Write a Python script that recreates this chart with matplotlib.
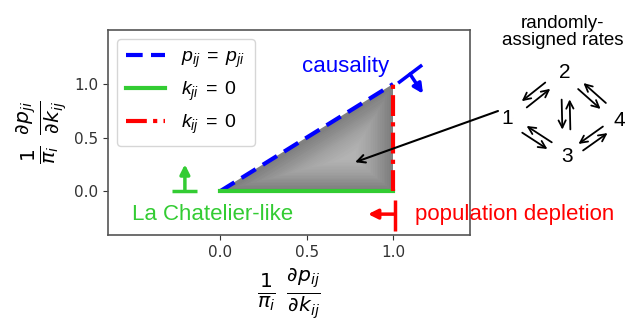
import matplotlib
matplotlib.use("Agg")
import matplotlib.pyplot as plt
import numpy as np

plt.rcParams['font.family'] = ['Liberation Sans', 'DejaVu Sans']
plt.rcParams['mathtext.fontset'] = 'custom'
plt.rcParams['mathtext.it'] = 'Liberation Sans:italic'
plt.rcParams['mathtext.rm'] = 'Liberation Sans'

# ---- data ----
region_x = [0.0, 1.0, 1.0]
region_y = [0.0, 0.0, 1.0]
causal_x = [0.0, 1.0]
causal_y = [0.0, 1.0]
chat_x = [0.0, 1.0]
chat_y = [0.0, 0.0]
depl_x = [1.0, 1.0]
depl_y = [0.0, 1.0]
legend_labels = [r'$p_{ij}\;=\;p_{ji}$', r'$k_{ji}\;=\;0$', r'$k_{ij}\;=\;0$']
xticks = [0.0, 0.5, 1.0]
yticks = [0.0, 0.5, 1.0]
node_labels = ['1', '2', '3', '4']
node_edges = [(0, 1), (1, 3), (1, 2), (0, 2), (2, 3)]

BLUE = '#0000ff'
GREEN = '#33cc33'
RED = '#ff0000'

fig = plt.figure(figsize=(6.31, 3.23), dpi=100)
ov = fig.add_axes([0, 0, 1, 1], zorder=5)
ov.set_xlim(0, 631)
ov.set_ylim(323, 0)
ov.axis('off')
ov.patch.set_alpha(0)

ax = fig.add_axes([108/631, 1-235/323, 362/631, 205/323])
ax.set_xlim(-0.65, 1.445)
ax.set_ylim(-0.41, 1.505)
for s in ax.spines.values():
    s.set_color('#555555')
    s.set_linewidth(1.2)
ax.set_xticks(xticks)
ax.set_yticks(yticks)
ax.tick_params(labelsize=11, colors='#333333')
for t in ax.get_xticklabels() + ax.get_yticklabels():
    t.set_fontfamily('DejaVu Sans')

# grey region with lighter centre
ax.fill(region_x, region_y, color='#808080', zorder=1, lw=0)
cx, cy = 0.76, 0.32
rx = np.array(region_x); ry = np.array(region_y)
for f in np.linspace(0.9, 0.1, 20):
    ax.fill(cx + (rx - cx) * f, cy + (ry - cy) * f, color='white', alpha=0.03, lw=0, zorder=1)

l1, = ax.plot(causal_x, causal_y, color=BLUE, lw=3, ls=(0, (4, 2)), zorder=3)
l2, = ax.plot(chat_x, chat_y, color=GREEN, lw=3, zorder=3)
l3, = ax.plot(depl_x, depl_y, color=RED, lw=3, ls=(0, (5, 1.5, 1, 1.5)), zorder=3)

leg = ax.legend([l1, l2, l3], legend_labels, loc='upper left', fontsize=14,
                handlelength=2.0, labelspacing=0.5, borderpad=0.5,
                bbox_to_anchor=(0.0, 1.0), borderaxespad=0.45)
leg.get_frame().set_edgecolor('#cccccc')

# T markers
def tmark(p0, p1, stem0, tip, color):
    ax.plot([p0[0], p1[0]], [p0[1], p1[1]], color=color, lw=2.5, clip_on=False, zorder=4,
            solid_capstyle='butt')
    ax.annotate('', xy=tip, xytext=stem0,
                arrowprops=dict(arrowstyle='-|>', color=color, lw=2.5, mutation_scale=14,
                                shrinkA=0, shrinkB=0), annotation_clip=False, zorder=4)

tmark((1.029, 1.009), (1.168, 1.178), (1.098, 1.093), (1.173, 0.91), BLUE)
tmark((-0.277, 0.0), (-0.133, 0.0), (-0.205, 0.0), (-0.205, 0.25), GREEN)
tmark((1.012, -0.08), (1.012, -0.37), (1.012, -0.215), (0.855, -0.215), RED)

ax.text(0.723, 1.16, 'causality', color=BLUE, fontsize=16, ha='center', va='center')
ax.text(-0.045, -0.215, 'La Chatelier-like', color=GREEN, fontsize=16, ha='center', va='center')
ax.text(1.705, -0.22, 'population depletion', color=RED, fontsize=16, ha='center',
        va='center', clip_on=False)

ax.set_xlabel(r'$\frac{1}{\pi_i}\ \frac{\partial p_{ij}}{\partial k_{ij}}$', fontsize=21,
              math_fontfamily='dejavusans', labelpad=4)
ax.set_ylabel(r'$\frac{1}{\pi_i}\ \frac{\partial p_{ji}}{\partial k_{ij}}$', fontsize=21,
              math_fontfamily='dejavusans', labelpad=4)

# right schematic (pixel coordinates of overlay)
ov.text(563, 32, 'randomly-\nassigned rates', ha='center', va='center', fontsize=13.5,
        linespacing=1.0)
node_pos = [(507, 118), (565, 72), (567, 157), (619, 120)]
for lab, (px, py) in zip(node_labels, node_pos):
    ov.text(px, py, lab, ha='center', va='center', fontsize=15)
for a, b in node_edges:
    (xa, ya), (xb, yb) = node_pos[a], node_pos[b]
    mx, my = (xa + xb) / 2, (ya + yb) / 2
    d = np.array([xb - xa, yb - ya], float)
    d /= np.hypot(*d)
    n = np.array([-d[1], d[0]])
    L = 15
    for sgn in (1, -1):
        o = n * 4 * sgn
        s = np.array([mx, my]) - d * L * sgn + o
        e = np.array([mx, my]) + d * L * sgn + o
        ov.annotate('', xy=e, xytext=s,
                    arrowprops=dict(arrowstyle='->', color='black', lw=1.3,
                                    mutation_scale=13, shrinkA=0, shrinkB=0))

# pointer from node 1 into region
ax.annotate('', xy=(0.78, 0.27), xycoords='data', xytext=(498, 111),
            textcoords=ov.transData,
            arrowprops=dict(arrowstyle='->', color='black', lw=1.5, mutation_scale=14,
                            shrinkA=0, shrinkB=0), annotation_clip=False)

fig.savefig('out.png', dpi=100)
